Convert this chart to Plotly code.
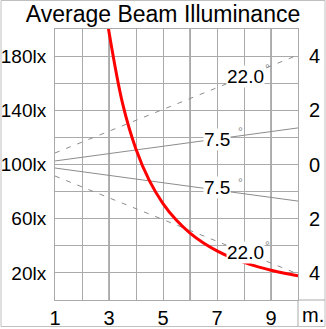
import plotly.graph_objects as go

# ---- data ----
distance_m = [2.95, 3, 3.5, 4, 4.5, 5, 5.5, 6, 6.5, 7, 7.5, 8, 8.5, 9, 9.5, 10]
illuminance_lx = [204.5, 197.8, 145.3, 111.3, 87.9, 71.2, 58.8, 49.4, 42.1, 36.3, 31.6, 27.8, 24.6, 22.0, 19.7, 17.8]

beam_dist = [1, 10]
beam_22_up = [108.5, 180.8]
beam_75_up = [102.6, 127.0]
beam_75_dn = [97.4, 73.0]
beam_22_dn = [91.5, 19.2]

x_tickvals = [1, 3, 5, 7, 9]
x_ticktext = ["1", "3", "5", "7", "9"]
y_tickvals = [20, 60, 100, 140, 180]
y_ticktext = ["20lx", "60lx", "100lx", "140lx", "180lx"]
r_ticktext = ["4", "2", "0", "2", "4"]
dark_grid_x = [3, 6, 9]

beam_labels = ["7.5", "7.5", "22.0", "22.0"]
beam_label_x = [7.0, 7.0, 8.04, 8.04]
beam_label_y = [118.8, 82.7, 164.6, 34.7]
deg_x = [7.86, 7.86, 8.88, 8.88]
deg_y = [124.0, 86.5, 170.5, 40.0]

FONT = "Liberation Sans, Arial, sans-serif"
LIGHT = "#aaaaaa"
DARK = "#666666"
BEAM = "#8c8c8c"

fig = go.Figure()

for ys, dash in [(beam_22_up, "5px,7px"), (beam_75_up, "solid"),
                 (beam_75_dn, "solid"), (beam_22_dn, "5px,7px")]:
    fig.add_trace(go.Scatter(x=beam_dist, y=ys, mode="lines",
                             line=dict(color=BEAM, width=1, dash=dash),
                             hoverinfo="skip", showlegend=False))

fig.add_trace(go.Scatter(x=distance_m, y=illuminance_lx, mode="lines",
                         line=dict(color="#ff0000", width=3, shape="spline"),
                         showlegend=False))

# invisible trace for right axis
fig.add_trace(go.Scatter(x=[1], y=[100], yaxis="y2", mode="markers",
                         marker=dict(opacity=0), hoverinfo="skip", showlegend=False))

shapes = []
for xv in dark_grid_x:
    shapes.append(dict(type="line", xref="x", yref="paper", x0=xv, x1=xv, y0=0, y1=1,
                       line=dict(color=DARK, width=1), layer="below"))
# outer frame and extra separators
shapes.append(dict(type="rect", xref="paper", yref="paper",
                   x0=(1 - 55) / 243, x1=(325 - 55) / 243,
                   y0=-(26.5 / 271), y1=(300 - 0.5) / 271,
                   line=dict(color="#c0c0c0", width=1), fillcolor="rgba(0,0,0,0)"))
shapes.append(dict(type="line", xref="paper", yref="paper", x0=1, x1=1,
                   y0=-(26.5 / 271), y1=0, line=dict(color=LIGHT, width=1)))
shapes.append(dict(type="line", xref="paper", yref="paper", x0=1, x1=(325 - 55) / 243,
                   y0=0, y1=0, line=dict(color=LIGHT, width=1)))

annotations = []
for t, x, y in zip(beam_labels, beam_label_x, beam_label_y):
    annotations.append(dict(x=x, y=y, xref="x", yref="y", text=t, showarrow=False,
                            font=dict(family=FONT, size=19, color="#000"),
                            bgcolor="white", borderpad=0))
for x, y in zip(deg_x, deg_y):
    annotations.append(dict(x=x, y=y, xref="x", yref="y", text="°", showarrow=False,
                            font=dict(family=FONT, size=12, color="#888"), borderpad=0))
annotations.append(dict(x=(313 - 55) / 243, y=-(15 / 271), xref="paper", yref="paper",
                        xanchor="center", yanchor="middle",
                        text="m.", showarrow=False,
                        font=dict(family=FONT, size=20, color="#000")))

fig.update_layout(
    width=326, height=329,
    margin=dict(l=55, r=28, t=29, b=29, autoexpand=False),
    paper_bgcolor="white", plot_bgcolor="white",
    title=dict(text="Average Beam Illuminance", x=0.5, xref="container", xanchor="center",
               y=1 - 14 / 329, yanchor="middle", automargin=False,
               font=dict(family=FONT, size=23, color="#000")),
    xaxis=dict(range=[1, 10], showgrid=True, gridcolor=LIGHT, gridwidth=1,
               tickvals=list(range(1, 11)),
               ticktext=[x_ticktext[x_tickvals.index(v)] if v in x_tickvals else "" for v in range(1, 11)],
               ticks="", ticklen=0, showline=True, linecolor=LIGHT, mirror=True, zeroline=False,
               automargin=False, ticklabelstandoff=0,
               tickfont=dict(family=FONT, size=20, color="#000")),
    yaxis=dict(range=[0, 200], showgrid=True, gridcolor=LIGHT, gridwidth=1,
               tickvals=[20, 40, 60, 80, 100, 120, 140, 160, 180],
               ticktext=[y_ticktext[y_tickvals.index(v)] if v in y_tickvals else "" for v in [20, 40, 60, 80, 100, 120, 140, 160, 180]],
               ticks="", ticklen=0, showline=True, linecolor=LIGHT, mirror=True, zeroline=False,
               automargin=False, ticklabelstandoff=4,
               tickfont=dict(family=FONT, size=19, color="#000")),
    yaxis2=dict(range=[0, 200], overlaying="y", side="right", showgrid=False,
                tickvals=y_tickvals, ticktext=r_ticktext, ticks="", ticklen=0, zeroline=False,
                automargin=False, ticklabelstandoff=10,
                tickfont=dict(family=FONT, size=20, color="#000")),
    shapes=shapes,
    annotations=annotations,
    showlegend=False,
)

fig.write_html("out.html")
